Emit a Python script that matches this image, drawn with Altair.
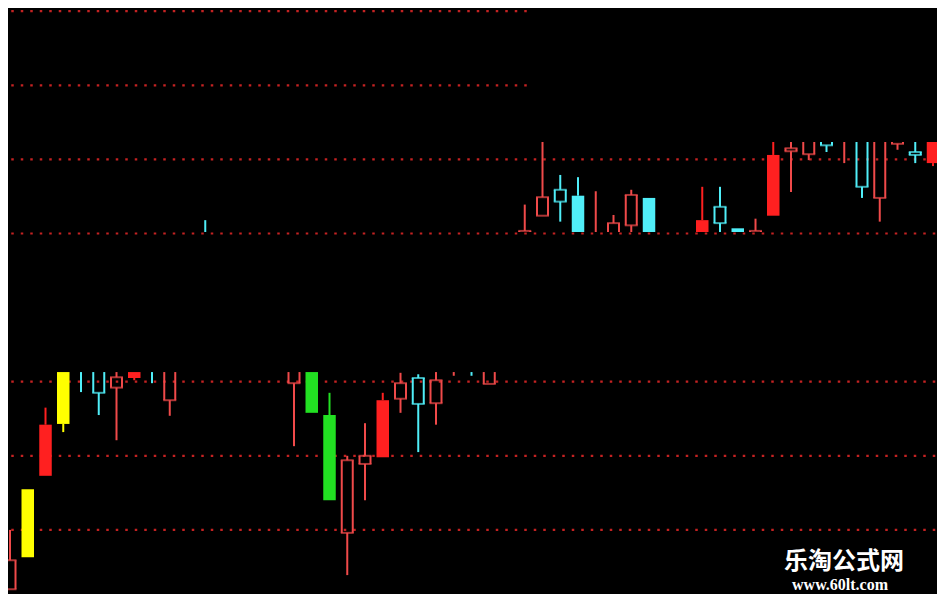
import altair as alt
import pandas as pd

# ---- candle data (price units; gridlines every 10) ----
idx = [0, 1, 2, 3, 4, 5, 6, 7, 8, 9, 11,
       16, 17, 18, 19, 20, 21, 22, 23, 24, 25, 26, 27,
       29, 30, 31, 32, 33, 34, 35, 36, 39, 40, 41, 42,
       43, 44, 45, 46, 47, 48, 49, 50, 51, 52]
opens = [2.0, 6.3, 17.3, 24.3, 33.5, 33.0, 29.2, 30.5, 33.0, 27.5, 49.0,
         29.8, 32.5, 25.5, 9.6, 18.9, 19.8, 27.7, 30.5, 27.1, 33.0, 33.0, 29.7,
         48.0, 52.4, 55.9, 55.1, 48.0, 49.0, 51.1, 54.8, 49.0, 53.6, 50.7, 48.0,
         52.4, 61.1, 60.7, 63.5, 63.0, 63.5, 54.8, 62.1, 61.0, 59.5]
highs = [10.0, 15.5, 26.5, 33.0, 34.0, 34.0, 32.5, 33.0, 34.0, 33.0, 51.8,
         33.0, 33.0, 28.5, 20.0, 24.4, 28.5, 31.2, 31.0, 32.0, 34.0, 34.0, 33.0,
         53.9, 63.0, 57.9, 57.6, 55.7, 52.5, 55.9, 54.8, 56.3, 56.3, 50.7, 52.0,
         63.0, 63.0, 64.0, 64.0, 64.5, 64.0, 64.0, 64.0, 63.0, 64.0]
lows = [2.0, 6.3, 17.3, 23.2, 28.6, 25.5, 22.1, 30.2, 29.8, 25.4, 47.0,
        21.3, 25.8, 14.0, 3.9, 14.0, 19.8, 25.8, 20.5, 24.2, 30.8, 30.8, 29.7,
        47.0, 52.4, 51.6, 48.0, 47.5, 48.0, 49.0, 48.0, 48.0, 49.0, 48.0, 47.0,
        52.4, 55.6, 59.9, 61.0, 59.5, 54.8, 51.6, 61.3, 59.5, 59.1]
closes = [5.9, 15.5, 24.2, 32.5, 32.0, 28.5, 30.6, 32.5, 32.0, 32.5, 48.0,
          32.5, 25.8, 14.0, 19.4, 20.0, 27.5, 29.8, 27.0, 30.2, 34.0, 32.0, 32.5,
          50.35, 54.9, 54.3, 49.0, 49.5, 51.4, 55.2, 49.0, 51.8, 51.4, 49.0, 50.35,
          60.6, 61.5, 63.5, 61.9, 64.0, 56.3, 63.5, 63.5, 60.6, 63.5]
kinds = ["red_hollow", "yellow", "red_solid", "yellow", "cyan_solid", "cyan_hollow",
         "red_hollow", "red_solid", "cyan_solid", "red_hollow", "cyan_solid",
         "red_hollow", "green", "green", "red_hollow", "red_hollow", "red_solid",
         "red_hollow", "cyan_hollow", "red_hollow", "red_hollow", "cyan_solid", "red_hollow",
         "red_hollow", "red_hollow", "cyan_hollow", "cyan_solid", "red_hollow", "red_hollow",
         "red_hollow", "cyan_solid", "red_solid", "cyan_hollow", "cyan_solid", "red_hollow",
         "red_solid", "red_hollow", "red_hollow", "cyan_hollow", "red_hollow", "cyan_hollow",
         "red_hollow", "red_hollow", "cyan_hollow", "red_solid"]
bands = ["low"] * 10 + ["high"] + ["low"] * 12 + ["high"] * 22

band_limits = {"low": (-5.0, 31.3), "high": (50.2, 62.35)}

grid_levels = [0, 10, 20, 30, 50, 60, 70, 80]
grid_ends = [53, 53, 53, 53, 53, 53, 29.3, 29.3]

kind_domain = ["red_hollow", "red_solid", "cyan_hollow", "cyan_solid", "yellow", "green"]
kind_colors = ["#f04a4a", "#ff2020", "#50eef8", "#50eef8", "#ffff00", "#22e022"]

# ---- derive visible (clipped) segments ----
rows = []
for i, o, h, l, c, k, b in zip(idx, opens, highs, lows, closes, kinds, bands):
    lo_b, hi_b = band_limits[b]
    blo, bhi = min(o, c), max(o, c)
    rows.append(dict(i=i, kind=k, hollow=k.endswith("hollow"),
                     vlo=max(blo, lo_b), vhi=min(bhi, hi_b),
                     ulo=max(bhi, lo_b), uhi=min(h, hi_b),
                     llo=max(l, lo_b), lhi=min(blo, hi_b),
                     top=bhi, bot=blo,
                     top_ok=lo_b <= bhi <= hi_b, bot_ok=lo_b <= blo <= hi_b))
df = pd.DataFrame(rows)

body_vis = df[df.vlo < df.vhi]
solid = body_vis[~body_vis.hollow]
hollow = body_vis[body_vis.hollow]
upper = df[df.ulo < df.uhi]
lower = df[df.llo < df.lhi]
top_edges = df[df.hollow & df.top_ok]
bot_edges = df[df.hollow & df.bot_ok]

grid = pd.DataFrame({"level": grid_levels, "x0": [-1] * len(grid_levels), "x1": grid_ends})

W, H = 929, 586
xs = alt.Scale(domain=[-0.113, 52.225], nice=False, zero=False)
ys = alt.Scale(domain=[1.35, 80.43], nice=False, zero=False)
col = alt.Color("kind:N", scale=alt.Scale(domain=kind_domain, range=kind_colors), legend=None)


def X(f="i"):
    return alt.X(f"{f}:Q", scale=xs, axis=None)


def Y(f):
    return alt.Y(f"{f}:Q", scale=ys, axis=None)


grid_layer = alt.Chart(grid).mark_rule(
    strokeDash=[2.5, 7], strokeWidth=2.2, color="#c42222", clip=True
).encode(x=X("x0"), x2="x1:Q", y=Y("level"))

upper_layer = alt.Chart(upper).mark_rule(strokeWidth=2).encode(x=X(), y=Y("ulo"), y2="uhi:Q", color=col)
lower_layer = alt.Chart(lower).mark_rule(strokeWidth=2).encode(x=X(), y=Y("llo"), y2="lhi:Q", color=col)
solid_layer = alt.Chart(solid).mark_rule(strokeWidth=12.5, strokeCap="butt").encode(
    x=X(), y=Y("vlo"), y2="vhi:Q", color=col)
left_layer = alt.Chart(hollow).mark_rule(strokeWidth=2, xOffset=-5.5).encode(
    x=X(), y=Y("vlo"), y2="vhi:Q", color=col)
right_layer = alt.Chart(hollow).mark_rule(strokeWidth=2, xOffset=5.5).encode(
    x=X(), y=Y("vlo"), y2="vhi:Q", color=col)
top_layer = alt.Chart(top_edges).mark_tick(orient="horizontal", size=13, thickness=2).encode(
    x=X(), y=Y("top"), color=col)
bot_layer = alt.Chart(bot_edges).mark_tick(orient="horizontal", size=13, thickness=2).encode(
    x=X(), y=Y("bot"), color=col)

wm1 = alt.Chart(pd.DataFrame({"t": ["乐淘公式网"]})).mark_text(
    font="Noto Sans CJK SC", fontWeight="bold", fontSize=24, color="white",
    align="center", baseline="alphabetic"
).encode(x=alt.value(836), y=alt.value(561), text="t:N")
wm2 = alt.Chart(pd.DataFrame({"t": ["www.60lt.com"]})).mark_text(
    font="Liberation Serif", fontWeight="bold", fontSize=16, color="white",
    align="center", baseline="alphabetic"
).encode(x=alt.value(832), y=alt.value(582), text="t:N")

chart = alt.layer(
    grid_layer, upper_layer, lower_layer, solid_layer,
    left_layer, right_layer, top_layer, bot_layer, wm1, wm2
).properties(
    width=W, height=H, padding=0, autosize="none", background="#000000"
).configure_view(strokeWidth=0, fill="#000000")

chart.save("out.html", embed_options={"renderer": "svg", "actions": False})
